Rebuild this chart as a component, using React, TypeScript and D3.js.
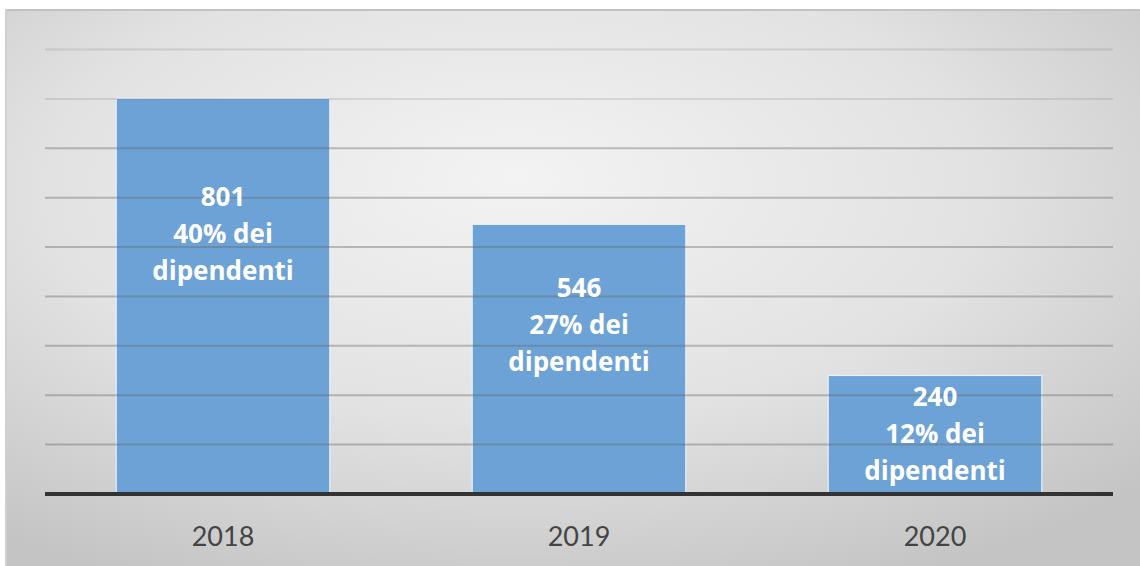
import React from "react";
import * as d3 from "d3";

const categories = ["2018", "2019", "2020"];
const values = [801, 546, 240];
const percents = ["40%", "27%", "12%"];
const yTicks = [100, 200, 300, 400, 500, 600, 700, 800, 900];

const W = 1140;
const H = 566;

export default function App() {
  const x = d3.scaleBand<string>().domain(categories).range([45, 1113]).paddingInner(0.4).paddingOuter(0.2);
  const y = d3.scaleLinear().domain([0, 900]).range([494, 49.5]);
  const font = "Lato, 'Open Sans', sans-serif";
  return (
    <svg width={W} height={H} style={{ position: "absolute", left: 0, top: 0 }}>
      <defs>
        <radialGradient id="bg" cx="45%" cy="35%" r="75%" fx="45%" fy="30%">
          <stop offset="0%" stopColor="#f3f3f3" />
          <stop offset="55%" stopColor="#e2e2e2" />
          <stop offset="100%" stopColor="#c4c4c4" />
        </radialGradient>
      </defs>
      <rect x={0} y={0} width={W} height={H} fill="#ffffff" />
      <rect x={5} y={9} width={W - 5} height={H - 9} fill="url(#bg)" />
      <line x1={5} x2={W} y1={10} y2={10} stroke="#c2c2c2" strokeWidth={2} />
      <line x1={6} x2={6} y1={9} y2={H} stroke="#d0d0d0" strokeWidth={2} />
      {categories.map((c, i) => (
        <rect
          key={c}
          x={x(c)!}
          y={y(values[i])}
          width={x.bandwidth()}
          height={y(0) - y(values[i])}
          fill="#6ca2d6"
          stroke="#e8f0f8"
          strokeWidth={1.2}
        />
      ))}
      {yTicks.map((t) => (
        <line key={t} x1={45} x2={1113} y1={y(t)} y2={y(t)} stroke="#6a6a6a" strokeOpacity={t >= 800 ? 0.18 : 0.4} strokeWidth={2} />
      ))}
      <line x1={45} x2={1113} y1={y(0)} y2={y(0)} stroke="#333333" strokeWidth={4} />
      {categories.map((c, i) => {
        const cx = x(c)! + x.bandwidth() / 2;
        const center = y(values[i] * 0.72) + 25;
        const lines = [String(values[i]), percents[i] + " dei", "dipendenti"];
        return (
          <text key={c} x={cx} textAnchor="middle" fill="#ffffff" fontFamily="'Open Sans', sans-serif" fontWeight="bold" fontSize={26}>
            {lines.map((l, j) => (
              <tspan key={j} x={cx} y={center + (j - 1) * 37 + 9}>
                {l}
              </tspan>
            ))}
          </text>
        );
      })}
      {categories.map((c) => (
        <text key={c} x={x(c)! + x.bandwidth() / 2} y={546} textAnchor="middle" fill="#444444" fontFamily={font} fontSize={27}>
          {c}
        </text>
      ))}
    </svg>
  );
}
